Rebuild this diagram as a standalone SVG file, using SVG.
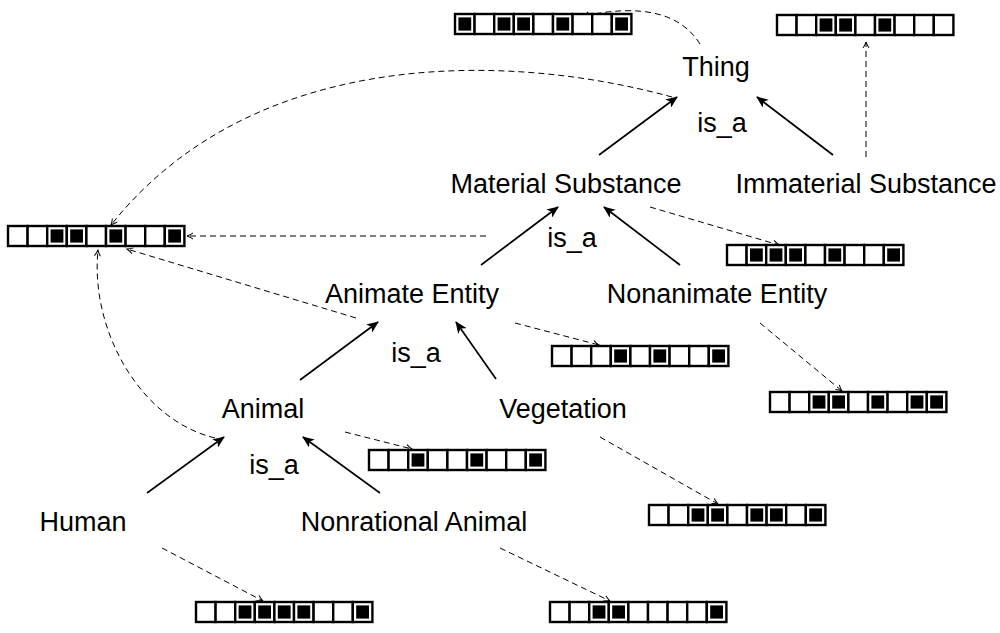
<svg xmlns="http://www.w3.org/2000/svg" xmlns:xlink="http://www.w3.org/1999/xlink" width="1000" height="633" viewBox="0 0 1000 633">
<style>
text{font-family:"Liberation Sans",Arial,sans-serif;font-size:27px;fill:#000;text-anchor:middle}
.isa{stroke:#000;stroke-width:1.7;fill:none;marker-end:url(#solid)}
.map{stroke:#000;stroke-width:1;fill:none;stroke-dasharray:6 4;marker-end:url(#open)}
</style>
<defs>
<marker id="solid" viewBox="0 0 12 10" refX="11" refY="5" markerWidth="12" markerHeight="10" markerUnits="userSpaceOnUse" orient="auto">
<path d="M0,0 L12,5 L0,10 L3,5 Z" fill="#000"/>
</marker>
<marker id="open" viewBox="0 0 8 8" refX="7" refY="4" markerWidth="8" markerHeight="8" markerUnits="userSpaceOnUse" orient="auto">
<path d="M1,1 Q4,3 7,4 Q4,5 1,7" fill="none" stroke="#000" stroke-width="1"/>
</marker>
<rect id="e" width="19.6" height="20" fill="#fff" stroke="#000" stroke-width="2.4"/>
<g id="f"><rect width="19.6" height="20" fill="#fff" stroke="#000" stroke-width="2.4"/><rect x="3.4" y="3.4" width="12.8" height="13.2" fill="#000"/></g>
</defs>
<rect width="1000" height="633" fill="#fff"/>

<g id="connectors">
<line class="isa" x1="599" y1="155" x2="677" y2="97"/>
<line class="isa" x1="833" y1="155" x2="757" y2="97"/>
<line class="isa" x1="481" y1="265" x2="558" y2="207"/>
<line class="isa" x1="680" y1="265" x2="604" y2="207"/>
<line class="isa" x1="300" y1="380" x2="378" y2="322"/>
<line class="isa" x1="496" y1="379" x2="456" y2="322"/>
<line class="isa" x1="147" y1="493" x2="224" y2="437"/>
<line class="isa" x1="380" y1="493" x2="303" y2="437"/>

<path class="map" d="M700,44 C680,12 640,4 583,16"/>
<path class="map" d="M866,157 L866,42"/>
<path class="map" d="M672,97 C500,50 250,50 111,225"/>
<path class="map" d="M486,236 L187,236"/>
<path class="map" d="M356,318 L127,249"/>
<path class="map" d="M215,438 C140,420 90,330 98,250"/>
<path class="map" d="M650,207 L779,245"/>
<path class="map" d="M515,323 L599,345"/>
<path class="map" d="M760,323 L842,391"/>
<path class="map" d="M345,432 L412,449"/>
<path class="map" d="M600,437 L718,504"/>
<path class="map" d="M162,548 L263,601"/>
<path class="map" d="M500,548 L610,601"/>
</g>

<g id="thing"><text x="716" y="76">Thing</text></g>
<g id="immaterial"><text x="866" y="193">Immaterial Substance</text></g>
<g id="material"><text x="566" y="193">Material Substance</text></g>
<g id="animate"><text x="412" y="303">Animate Entity</text></g>
<g id="nonanimate"><text x="717" y="303">Nonanimate Entity</text></g>
<g id="animal"><text x="263" y="418">Animal</text></g>
<g id="vegetation"><text x="563" y="418">Vegetation</text></g>
<g id="human"><text x="83" y="531">Human</text></g>
<g id="nonrational"><text x="414" y="531">Nonrational Animal</text></g>

<g id="isa-labels">
<text x="722" y="132">is_a</text>
<text x="572" y="247">is_a</text>
<text x="416" y="362">is_a</text>
<text x="274" y="474">is_a</text>
</g>

<g id="arr-thing" transform="translate(455,14)">
<use href="#f" x="0"/><use href="#e" x="19.6"/><use href="#f" x="39.2"/><use href="#f" x="58.8"/><use href="#e" x="78.4"/><use href="#f" x="98"/><use href="#e" x="117.6"/><use href="#e" x="137.2"/><use href="#f" x="156.8"/>
</g>
<g id="arr-immaterial" transform="translate(777,15)">
<use href="#e" x="0"/><use href="#e" x="19.6"/><use href="#f" x="39.2"/><use href="#f" x="58.8"/><use href="#e" x="78.4"/><use href="#f" x="98"/><use href="#e" x="117.6"/><use href="#e" x="137.2"/><use href="#e" x="156.8"/>
</g>
<g id="arr-left" transform="translate(8,226)">
<use href="#e" x="0"/><use href="#e" x="19.6"/><use href="#f" x="39.2"/><use href="#f" x="58.8"/><use href="#e" x="78.4"/><use href="#f" x="98"/><use href="#e" x="117.6"/><use href="#e" x="137.2"/><use href="#f" x="156.8"/>
</g>
<g id="arr-material" transform="translate(727,245)">
<use href="#e" x="0"/><use href="#f" x="19.6"/><use href="#f" x="39.2"/><use href="#f" x="58.8"/><use href="#e" x="78.4"/><use href="#f" x="98"/><use href="#e" x="117.6"/><use href="#e" x="137.2"/><use href="#f" x="156.8"/>
</g>
<g id="arr-animate" transform="translate(552,346)">
<use href="#e" x="0"/><use href="#e" x="19.6"/><use href="#e" x="39.2"/><use href="#f" x="58.8"/><use href="#e" x="78.4"/><use href="#f" x="98"/><use href="#e" x="117.6"/><use href="#e" x="137.2"/><use href="#f" x="156.8"/>
</g>
<g id="arr-nonanimate" transform="translate(770,392)">
<use href="#e" x="0"/><use href="#e" x="19.6"/><use href="#f" x="39.2"/><use href="#f" x="58.8"/><use href="#e" x="78.4"/><use href="#f" x="98"/><use href="#e" x="117.6"/><use href="#f" x="137.2"/><use href="#f" x="156.8"/>
</g>
<g id="arr-animal" transform="translate(369,450)">
<use href="#e" x="0"/><use href="#e" x="19.6"/><use href="#f" x="39.2"/><use href="#e" x="58.8"/><use href="#e" x="78.4"/><use href="#f" x="98"/><use href="#e" x="117.6"/><use href="#e" x="137.2"/><use href="#f" x="156.8"/>
</g>
<g id="arr-vegetation" transform="translate(649,505)">
<use href="#e" x="0"/><use href="#e" x="19.6"/><use href="#f" x="39.2"/><use href="#f" x="58.8"/><use href="#e" x="78.4"/><use href="#f" x="98"/><use href="#f" x="117.6"/><use href="#e" x="137.2"/><use href="#f" x="156.8"/>
</g>
<g id="arr-human" transform="translate(196,602)">
<use href="#e" x="0"/><use href="#e" x="19.6"/><use href="#f" x="39.2"/><use href="#f" x="58.8"/><use href="#f" x="78.4"/><use href="#f" x="98"/><use href="#e" x="117.6"/><use href="#e" x="137.2"/><use href="#f" x="156.8"/>
</g>
<g id="arr-nonrational" transform="translate(550,602)">
<use href="#e" x="0"/><use href="#e" x="19.6"/><use href="#f" x="39.2"/><use href="#f" x="58.8"/><use href="#e" x="78.4"/><use href="#e" x="98"/><use href="#e" x="117.6"/><use href="#e" x="137.2"/><use href="#f" x="156.8"/>
</g>
</svg>
